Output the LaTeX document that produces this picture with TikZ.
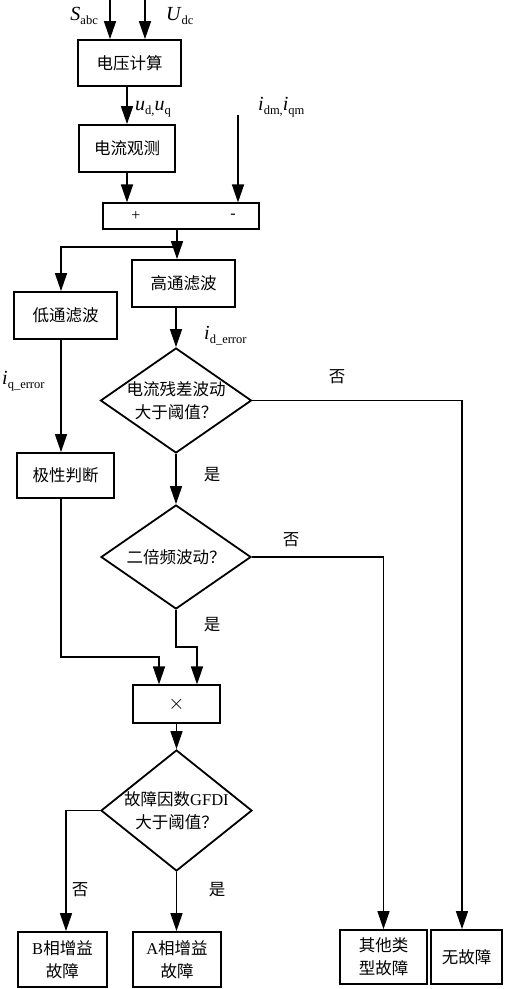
\documentclass[tikz,border=0pt]{standalone}
\usepackage{fontspec}
\setmainfont{Liberation Serif}
\newfontfamily\cjk{Noto Sans CJK SC}
\usetikzlibrary{arrows.meta,shapes.geometric}

\newcommand{\sig}[2]{\textit{#1}\raisebox{-0.22em}{\fontsize{12.5}{14}\selectfont #2}}

\tikzset{
  block/.style={draw, line width=1.8pt, inner sep=0pt, align=center,
    font=\cjk\fontsize{16.5}{23}\selectfont},
  thinblock/.style={block, line width=1.1pt},
  decision/.style={diamond, draw, line width=1.8pt, inner sep=-3pt, aspect=1.44,
    align=center, font=\cjk\fontsize{16.5}{23}\selectfont},
  flow/.style={line width=1.5pt, -{Triangle[length=18pt,width=12pt]}},
  link/.style={line width=1.5pt},
  siglabel/.style={inner sep=0pt, font=\fontsize{20}{22}\selectfont},
  yn/.style={inner sep=0pt, font=\cjk\fontsize{16.5}{18}\selectfont}
}

\begin{document}
\begin{tikzpicture}[x=1pt, y=-1pt]
    \useasboundingbox (0,0) rectangle (508,989);

    % blocks
    \node[block, minimum width=103pt, minimum height=46pt] (volt) at (129.5,63) {电压计算};
    \node[block, minimum width=96pt, minimum height=47pt] (obs) at (127,148.5) {电流观测};
    \node[thinblock, minimum width=156pt, minimum height=26pt] (sum) at (181,216) {};
    \node[inner sep=0pt, font=\fontsize{16}{18}\selectfont] (plus) at (136,216) {+};
    \node[inner sep=0pt, font=\fontsize{16}{18}\selectfont] (minus) at (233,216) {-};
    \node[block, minimum width=103pt, minimum height=47pt] (hp) at (183.5,283.5) {高通滤波};
    \node[block, minimum width=103pt, minimum height=47pt] (lp) at (65.5,315.5) {低通滤波};
    \node[block, minimum width=97pt, minimum height=45pt] (pol) at (65.5,475.5) {极性判断};
    \node[decision, minimum width=151pt, minimum height=105pt] (dec1) at (176,400.5)
        {电流残差波动\\大于阈值？};
    \node[decision, minimum width=150pt, minimum height=104pt] (dec2) at (176,557)
        {二倍频波动？};
    \node[thinblock, minimum width=87pt, minimum height=38pt,
          font=\fontsize{22}{24}\selectfont] (mul) at (176.5,704) {$\times$};
    \node[decision, minimum width=151pt, minimum height=121pt] (dec3) at (176.5,810.5)
        {故障因数{\rmfamily GFDI}\\大于阈值？};
    \node[block, minimum width=89pt, minimum height=55pt] (bfault) at (62.5,959.5)
        {{\rmfamily B}相增益\\故障};
    \node[block, minimum width=88pt, minimum height=55pt] (afault) at (177,959.5)
        {{\rmfamily A}相增益\\故障};
    \node[block, minimum width=87pt, minimum height=54pt] (other) at (383.5,957)
        {其他类\\型故障};
    \node[block, minimum width=71pt, minimum height=54pt] (none) at (466.5,957) {无故障};

    % signal labels
    \node[siglabel, anchor=base east] (sabc) at (98,20) {\sig{S}{abc}};
    \node[siglabel, anchor=base west] (udc) at (166,20) {\sig{U}{dc}};
    \node[siglabel, anchor=base west] (udq) at (135,110) {\sig{u}{d,}\sig{u}{q}};
    \node[siglabel, anchor=base west] (idqm) at (258,110) {\sig{i}{dm,}\sig{i}{qm}};
    \node[siglabel, anchor=base west] (iderr) at (204,339) {\sig{i}{d\_error}};
    \node[siglabel, anchor=base west] (iqerr) at (2,384) {\sig{i}{q\_error}};

    % yes / no labels
    \node[yn] (no1) at (337,377) {否};
    \node[yn] (yes1) at (212,475) {是};
    \node[yn] (no2) at (291,540) {否};
    \node[yn] (yes2) at (212,625) {是};
    \node[yn] (no3) at (80,890) {否};
    \node[yn] (yes3) at (217,890) {是};

    % free ends and bends
    \coordinate (sin) at (110,0);
    \coordinate (uin) at (145,0);
    \coordinate (iin) at (238,115);
    \coordinate (split) at (177,247);
    \coordinate (lpx) at (61,0);
    \coordinate (nonex) at (462,0);
    \coordinate (m1) at (159,657);
    \coordinate (m2) at (197,647);
    \coordinate (bx) at (66,0);

    % connectors
    \draw[flow] (sin) -- (sin |- volt.north);
    \draw[flow] (uin) -- (uin |- volt.north);
    \draw[flow] (obs.north |- volt.south) -- (obs.north);
    \draw[flow] (obs.south) -- (obs.south |- sum.north);
    \draw[flow] (iin) -- (iin |- sum.north);
    \draw[link] (split |- sum.south) -- (split);
    \draw[flow] (split) -| (lp.north -| lpx);
    \draw[flow] (split) -- (split |- hp.north);
    \draw[flow] (dec1.north |- hp.south) -- (dec1.north);
    \draw[flow] (lp.south -| lpx) -- (pol.north -| lpx);
    \draw[flow] (dec1.east) -| (none.north -| nonex);
    \draw[flow] (dec1.south) -- (dec2.north);
    \draw[flow] (dec2.east) -| (other.north);
    \draw[flow] (pol.south -| lpx) |- (m1) -- (m1 |- mul.north);
    \draw[flow] (dec2.south) |- (m2) -- (m2 |- mul.north);
    \draw[flow] (mul.south) -- (mul.south |- dec3.north);
    \draw[flow] (dec3.west) -| (bfault.north -| bx);
    \draw[flow] (dec3.south) -- (dec3.south |- afault.north);
\end{tikzpicture}
\end{document}
